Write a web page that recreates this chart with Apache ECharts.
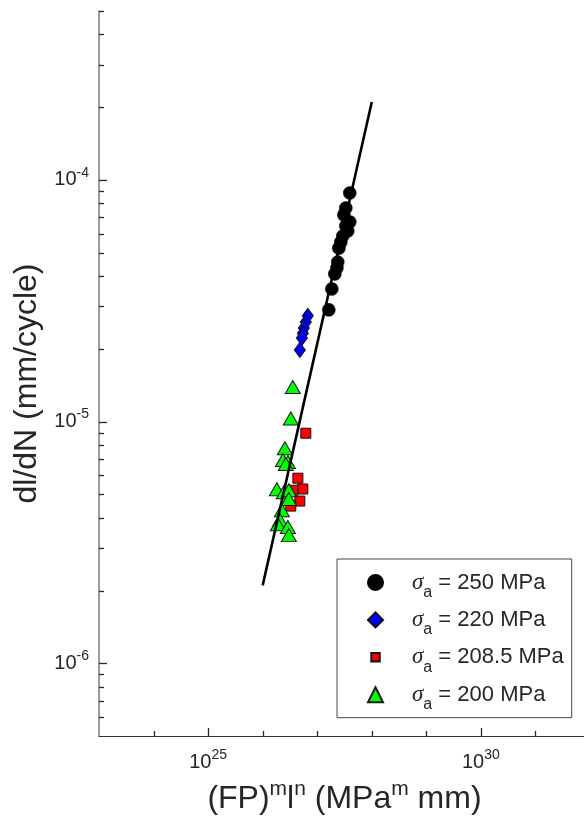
<!DOCTYPE html>
<html><head><meta charset="utf-8">
<script src="https://cdn.jsdelivr.net/npm/echarts@6/dist/echarts.min.js"></script>
<style>html,body{margin:0;padding:0;background:#fff}#c{width:584px;height:825px}</style>
</head><body><div id="c"></div>
<script>
const FONT = "'Liberation Sans', Arial, Helvetica, sans-serif";
const TXT = '#262626';

// ---- data ----
const seriesNames = ['σa = 250 MPa', 'σa = 220 MPa', 'σa = 208.5 MPa', 'σa = 200 MPa'];
const stressText = ['250', '220', '208.5', '200'];

const x250 = [3.95e27, 3.34e27, 3.07e27, 3.95e27, 3.34e27, 3.63e27, 2.94e27, 2.71e27, 2.49e27, 2.38e27, 2.29e27, 2.10e27, 1.85e27, 1.63e27];
const y250 = [8.83e-5, 7.65e-5, 7.17e-5, 6.70e-5, 6.45e-5, 6.15e-5, 5.86e-5, 5.53e-5, 5.22e-5, 4.57e-5, 4.32e-5, 4.08e-5, 3.54e-5, 2.90e-5];

const x220 = [6.73e26, 6.18e26, 5.69e26, 5.45e26, 5.23e26, 4.80e26];
const y220 = [2.74e-5, 2.58e-5, 2.44e-5, 2.32e-5, 2.22e-5, 1.98e-5];

const x2085 = [6.18e26, 4.42e26, 5.45e26, 4.80e26, 3.28e26, 3.57e26];
const y2085 = [8.95e-6, 5.83e-6, 5.26e-6, 4.69e-6, 4.47e-6, 5.20e-6];

const x200 = [3.57e26, 3.28e26, 2.55e26, 2.35e26, 2.90e26, 2.66e26, 1.82e26, 2.44e26, 3.02e26, 3.02e26, 2.25e26, 2.07e26, 1.90e26, 2.90e26, 3.02e26];
const y200 = [1.39e-5, 1.03e-5, 7.76e-6, 6.93e-6, 6.80e-6, 6.67e-6, 5.25e-6, 5.10e-6, 5.20e-6, 4.78e-6, 4.30e-6, 3.91e-6, 3.76e-6, 3.66e-6, 3.39e-6];

const fitX = [1e26, 1e28];
const fitY = [2.1e-6, 2.1e-4];

// ---- axes ----
const xMin = 1e23, xMax = 1e32;
const yMin = 5e-7, yMax = 5e-4;
const xLabelExps = [25, 30];
const yLabelExps = [-6, -5, -4];
const xMajorTicks = [1e25, 1e30];
const xMinorTicks = [1e24, 1e26, 1e27, 1e28, 1e29, 1e31];
const yMajorTicks = [1e-6, 1e-5, 1e-4];
const yMinorTicks = [6e-7, 7e-7, 8e-7, 9e-7,
  2e-6, 3e-6, 4e-6, 5e-6, 6e-6, 7e-6, 8e-6, 9e-6,
  2e-5, 3e-5, 4e-5, 5e-5, 6e-5, 7e-5, 8e-5, 9e-5,
  2e-4, 3e-4, 4e-4, 5e-4];

const zip = (xs, ys) => xs.map((x, i) => [x, ys[i]]);

function powLabel(exps) {
  return function (v) {
    const l = Math.log10(v);
    const e = Math.round(l);
    if (Math.abs(l - e) > 1e-6 || exps.indexOf(e) < 0) return '';
    return '{b|10}{s|' + e + '}';
  };
}

const chart = echarts.init(document.getElementById('c'), null, { renderer: 'canvas' });

const yTickData = yMajorTicks.map(v => [xMin, v, 1]).concat(yMinorTicks.map(v => [xMin, v, 0]));
const xTickData = xMajorTicks.map(v => [v, yMin, 1]).concat(xMinorTicks.map(v => [v, yMin, 0]));

const option = {
  animation: false,
  backgroundColor: '#ffffff',
  textStyle: { fontFamily: FONT },
  grid: { left: 99, width: 491, top: 11, height: 725, containLabel: false, outerBoundsMode: 'none' },
  xAxis: {
    type: 'log', logBase: 10, min: xMin, max: xMax,
    axisLine: { show: true, lineStyle: { color: '#333333', width: 1 } },
    axisTick: { show: false },
    splitLine: { show: false },
    axisLabel: {
      margin: 12, color: TXT, formatter: powLabel(xLabelExps),
      rich: {
        b: { fontSize: 20, fontFamily: FONT, color: TXT },
        s: { fontSize: 14, fontFamily: FONT, color: TXT, padding: [0, 0, 14, 0] }
      }
    },
    name: '(FP){s|m}l{s|n} (MPa{s|m} mm)',
    nameLocation: 'middle', nameGap: 43,
    nameTextStyle: {
      fontSize: 32, fontFamily: FONT, color: TXT,
      rich: { s: { fontSize: 21, fontFamily: FONT, color: TXT, padding: [0, 0, 20, 0] } }
    }
  },
  yAxis: {
    type: 'log', logBase: 10, min: yMin, max: yMax,
    axisLine: { show: true, lineStyle: { color: '#7a7a7a', width: 1.5 } },
    axisTick: { show: false },
    splitLine: { show: false },
    axisLabel: {
      margin: 10, color: TXT, formatter: powLabel(yLabelExps),
      rich: {
        b: { fontSize: 20, fontFamily: FONT, color: TXT },
        s: { fontSize: 14, fontFamily: FONT, color: TXT, padding: [0, 0, 14, 0] }
      }
    },
    name: 'dl/dN (mm/cycle)',
    nameLocation: 'middle', nameGap: 38,
    nameTextStyle: { fontSize: 32, fontFamily: FONT, color: TXT, padding: [0, 20, 0, 0] }
  },
  legend: {
    orient: 'vertical', left: 337, top: 559,
    padding: [12, 8, 5, 30],
    itemGap: 7.9, itemWidth: 15, itemHeight: 15,
    backgroundColor: '#ffffff', borderColor: '#444444', borderWidth: 1, borderRadius: 0,
    data: [
      { name: seriesNames[0], icon: 'circle' },
      { name: seriesNames[1], icon: 'diamond' },
      { name: seriesNames[2], icon: 'path://M0,0M16,16M3.5,3.5L12.5,3.5L12.5,12.5L3.5,12.5Z' },
      { name: seriesNames[3], icon: 'triangle' }
    ],
    formatter: function (name) {
      const i = seriesNames.indexOf(name);
      return '{g|σ}{a|a}{t| = ' + stressText[i] + ' MPa}';
    },
    textStyle: {
      color: TXT, fontFamily: FONT, fontSize: 22,
      rich: {
        g: { fontSize: 23, fontFamily: "'Liberation Serif', 'DejaVu Serif', serif", fontStyle: 'italic', color: TXT, padding: [0, 0, 0, 24] },
        a: { fontSize: 16, fontFamily: FONT, color: TXT, padding: [20, 0, 0, 0] },
        t: { fontSize: 22, fontFamily: FONT, color: TXT }
      }
    }
  },
  series: [
    {
      name: seriesNames[0], type: 'scatter', data: zip(x250, y250),
      symbol: 'circle', symbolSize: 13, z: 2,
      itemStyle: { color: '#000000', borderColor: '#000000', borderWidth: 0.5, opacity: 1 }
    },
    {
      name: seriesNames[1], type: 'scatter', data: zip(x220, y220),
      symbol: 'diamond', symbolSize: [11, 15], z: 2,
      itemStyle: { color: '#0000ff', borderColor: '#111111', borderWidth: 1, opacity: 1 }
    },
    {
      name: seriesNames[2], type: 'scatter', data: zip(x2085, y2085),
      symbol: 'rect', symbolSize: 10, z: 2,
      itemStyle: { color: '#ff0000', borderColor: '#111111', borderWidth: 1, opacity: 1 }
    },
    {
      name: seriesNames[3], type: 'scatter', data: zip(x200, y200),
      symbol: 'triangle', symbolSize: [15, 13], z: 2,
      itemStyle: { color: '#00ff00', borderColor: '#1a1a1a', borderWidth: 1, opacity: 1 }
    },
    {
      name: 'fit', type: 'line', data: zip(fitX, fitY),
      showSymbol: false, symbol: 'none', z: 3,
      lineStyle: { color: '#000000', width: 2.6 }
    },
    {
      name: 'yTicks', type: 'custom', silent: true, z: 4, data: yTickData,
      renderItem: function (params, api) {
        const p = api.coord([api.value(0), api.value(1)]);
        const len = api.value(2) ? 8 : 5;
        const y = Math.round(p[1]) + 0.5;
        return { type: 'line', shape: { x1: p[0], y1: y, x2: p[0] + len, y2: y },
          style: { stroke: '#262626', lineWidth: 1.3 } };
      }
    },
    {
      name: 'xTicks', type: 'custom', silent: true, z: 4, data: xTickData,
      renderItem: function (params, api) {
        const p = api.coord([api.value(0), api.value(1)]);
        const len = api.value(2) ? 8 : 5;
        const x = Math.round(p[0]) + 0.5;
        return { type: 'line', shape: { x1: x, y1: p[1], x2: x, y2: p[1] - len },
          style: { stroke: '#262626', lineWidth: 1.3 } };
      }
    }
  ]
};
chart.setOption(option);
</script>
</body></html>
